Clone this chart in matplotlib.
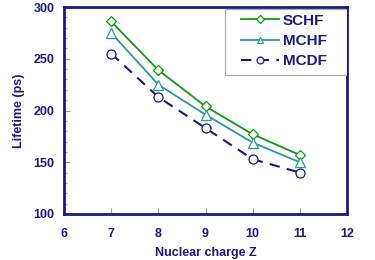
import matplotlib
matplotlib.use('Agg')
import matplotlib.pyplot as plt
from matplotlib.patches import Rectangle
from matplotlib.ticker import MultipleLocator

plt.rcParams['font.family'] = ['Liberation Sans', 'DejaVu Sans']
plt.rcParams['font.weight'] = 'bold'

navy = '#1a1a80'

z = [7, 8, 9, 10, 11]
schf = [286, 239, 204, 177, 157]
mchf = [275, 225, 196, 169, 150]
mcdf = [255, 213, 183, 153, 140]

fig = plt.figure(figsize=(3.75, 2.6), dpi=100)
ax = fig.add_axes([64 / 375, 1 - 214 / 260, 283 / 375, 207 / 260])

ax.plot(z, schf, color='#119911', lw=1.3, marker='D', ms=5, mfc='white',
        mec='#119911', mew=0.9, label='SCHF')
ax.plot(z, mchf, color='#2a9a94', lw=1.3, marker='^', ms=6.5, mfc='white',
        mec='#2a9a94', mew=0.9, label='MCHF')
ax.plot(z, mcdf, color=navy, lw=1.5, ls=(0, (5, 3.5)), marker='o', ms=6.5,
        mfc='white', mec=navy, mew=0.9, label='MCDF')

ax.set_xlim(6, 12)
ax.set_ylim(100, 300)
ax.xaxis.set_major_locator(MultipleLocator(1))
ax.yaxis.set_major_locator(MultipleLocator(50))
ax.yaxis.set_minor_locator(MultipleLocator(10))

for s in ax.spines.values():
    s.set_color(navy)
    s.set_linewidth(2)

ax.tick_params(which='both', direction='in', color='#999999', labelcolor=navy,
               labelsize=9, top=False, right=False)
ax.tick_params(which='major', length=4)
ax.tick_params(which='minor', length=2)
ax.tick_params(axis='x', pad=10)
ax.tick_params(axis='y', pad=7)

ax.set_xlabel('Nuclear charge Z', color=navy, fontsize=9, fontweight='bold', labelpad=5)
ax.set_ylabel('Lifetime (ps)', color=navy, fontsize=9, fontweight='bold', labelpad=6)

# legend frame drawn separately (it is wider than the entries)
ax.add_patch(Rectangle((0.569, 0.671), 0.431, 0.32, transform=ax.transAxes,
                       facecolor='white', edgecolor='#aaaaaa', lw=0.8, zorder=4))
leg = ax.legend(loc='upper right', bbox_to_anchor=(1 - 16 / 283, 0.99), fontsize=11,
                frameon=False, handlelength=2.5, borderpad=0.3, labelspacing=0.42,
                handletextpad=0.2, borderaxespad=0, markerscale=0.75)
leg.set_zorder(5)
for t in leg.get_texts():
    t.set_color(navy)
    t.set_fontweight('bold')

fig.savefig('out.png', dpi=100)
